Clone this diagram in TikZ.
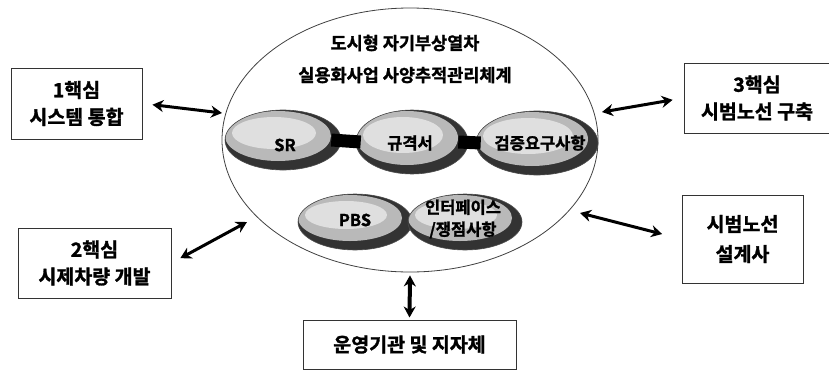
\documentclass[tikz,border=0pt]{standalone}
\usepackage{fontspec}
\setmainfont{Noto Sans CJK KR Bold}[RawFeature={embolden=1.5}]
\usetikzlibrary{shapes.geometric,arrows.meta}

\tikzset{
core/.style={draw=black!80, line width=1pt, rectangle, align=center, inner sep=0pt,
  font=\fontsize{19.5}{27}\selectfont},
pod/.style 2 args={ellipse, inner sep=0pt, draw=black!70, line width=0.6pt, fill=black!80,
  minimum width=#1, minimum height=#2,
  path picture={
    \fill[gray!55] ([shift={(-5,-4)}]path picture bounding box.center) ellipse [x radius=#1/2-5, y radius=#2/2-5];
    \fill[gray!25] ([shift={(-9,-7)}]path picture bounding box.center) ellipse [x radius=#1/2-16, y radius=#2/2-14];
  }},
podtext/.style={font=\fontsize{16.5}{22}\selectfont, align=center, inner sep=0pt},
link/.style={{Stealth[length=11pt,width=12pt]}-{Stealth[length=11pt,width=12pt]}, line width=3pt},
bond/.style={line width=13pt, black}
}

\begin{document}
\begin{tikzpicture}[x=1pt,y=-1pt]
\useasboundingbox (0,0) rectangle (829,370);

\node[draw=black!75, line width=0.8pt, ellipse, minimum width=376, minimum height=264, inner sep=0pt] (main) at (410,140) {};
\node[align=center, font=\fontsize{17.5}{32}\selectfont] (title) at (405,59) {도시형 자기부상열차\\실용화사업 사양추적관리체계};

\node[pod={116}{60}] (sr) at (283,140) {};
\node[pod={112}{64}] (spec) at (412,142) {};
\node[pod={122}{64}] (verify) at (537,143) {};
\node[pod={114}{56}] (pbs) at (355,222) {};
\node[pod={114}{56}] (iface) at (465,222) {};

\draw[bond] ([xshift=-10]sr.east) -- ([xshift=5]spec.west);
\draw[bond] ([xshift=-10]spec.east) -- ([xshift=5]verify.west);

\node[podtext] (srtxt) at (285,145) {SR};
\node[podtext] (spectxt) at (410,143) {규격서};
\node[podtext] (verifytxt) at (540,143) {검증요구사항};
\node[podtext] (pbstxt) at (355,220) {PBS};
\node[podtext] (ifacetxt) at (463,219) {인터페이스\\/쟁점사항};

\node[core, minimum width=131, minimum height=71] (core1) at (76.5,103.5) {1핵심\\시스템 통합};
\node[core, minimum width=153, minimum height=70] (core2) at (94.5,263) {2핵심\\시제차량 개발};
\node[core, minimum width=146, minimum height=70] (core3) at (757,98) {3핵심\\시범노선 구축};
\node[core, minimum width=121, minimum height=88, font=\fontsize{19.5}{30}\selectfont] (designer) at (742.5,239) {시범노선\\설계사};
\node[core, minimum width=213, minimum height=49] (operator) at (409.5,344.5) {운영기관 및 지자체};

\coordinate (e1) at (222,113);
\coordinate (e2) at (247,222);
\coordinate (e3) at (602,112);
\coordinate (e4) at (580,213);

\draw[link, shorten <=10pt] (core1.east) -- (e1);
\draw[link, shorten <=10pt] (core2.east) -- (e2);
\draw[link, shorten >=11pt] (e3) -- (core3.west);
\draw[link, shorten >=20pt] (e4) -- (designer.west);
\draw[link, line width=4pt, shorten <=3pt, shorten >=2pt] (main.south) -- (operator.north);
\end{tikzpicture}
\end{document}
